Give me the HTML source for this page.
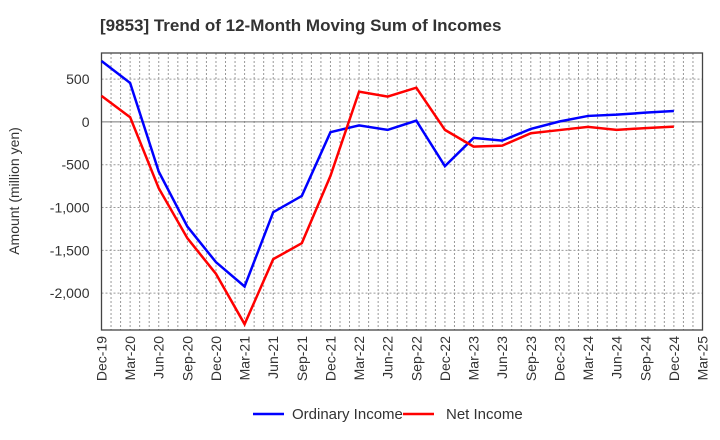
<!DOCTYPE html>
<html><head><meta charset="utf-8"><style>
body{margin:0;background:#fff;}
svg{display:block;font-family:"Liberation Sans",Arial,sans-serif;}
</style></head><body>
<svg id="chart" width="720" height="440" xmlns="http://www.w3.org/2000/svg">
<text x="100" y="31" font-size="17" font-weight="bold" fill="#333">[9853]  Trend of 12-Month Moving Sum of Incomes</text>
<g id="grid"></g><g id="axes"></g><g id="series"></g>
<text transform="translate(19,191) rotate(-90)" text-anchor="middle" font-size="14" fill="#333">Amount (million yen)</text>
<g>
<g><line x1="253" y1="414" x2="284" y2="414" stroke="#0000ff" stroke-width="2.5"/><text x="292" y="419" font-size="15" fill="#333">Ordinary Income</text></g>
<g><line x1="403" y1="414" x2="434" y2="414" stroke="#ff0000" stroke-width="2.5"/><text x="446" y="419" font-size="15" fill="#333">Net Income</text></g>
</g>
</svg>
<script>
const categories=["Dec-19","Mar-20","Jun-20","Sep-20","Dec-20","Mar-21","Jun-21","Sep-21","Dec-21","Mar-22","Jun-22","Sep-22","Dec-22","Mar-23","Jun-23","Sep-23","Dec-23","Mar-24","Jun-24","Sep-24","Dec-24","Mar-25"];
const ordinaryIncome=[712,455,-580,-1222,-1638,-1922,-1054,-864,-120,-40,-93,15,-517,-187,-218,-82,5,70,85,108,128];
const netIncome=[304,55,-774,-1358,-1774,-2362,-1603,-1416,-630,354,296,400,-93,-288,-277,-132,-95,-58,-93,-72,-55];
const yTicks=[500,0,-500,-1000,-1500,-2000];
const yTickLabels=["500","0","-500","-1,000","-1,500","-2,000"];
const yMin=-2430,yMax=805;
const L=101.5,R=702.5,T=53,B=330;
const NS="http://www.w3.org/2000/svg";
const nQ=categories.length-1;
function xS(i){return L+(R-L)*i/nQ;}
function yS(v){return B-(v-yMin)/(yMax-yMin)*(B-T);}
function mk(tag,attrs,parent){const e=document.createElementNS(NS,tag);for(const k in attrs)e.setAttribute(k,attrs[k]);parent.appendChild(e);return e;}
const grid=document.getElementById('grid'),axes=document.getElementById('axes'),ser=document.getElementById('series');
for(let m=1;m<nQ*3;m++){const x=L+(R-L)*m/(nQ*3);
const g=mk('line',{x1:x,x2:x,y1:T,y2:B,stroke:'#999','stroke-width':1,'stroke-dasharray':'2,2'},grid);

}
yTicks.forEach((v,i)=>{const y=yS(v);
const g=mk('line',{x1:L,x2:R,y1:y,y2:y,stroke:v===0?'#777':'#999','stroke-width':1,'stroke-dasharray':v===0?'':'2,2'},grid);


const t=mk('text',{x:L-12,y:y+5,'text-anchor':'end','font-size':14,fill:'#333'},axes);t.textContent=yTickLabels[i];

});
categories.forEach((c,i)=>{const x=xS(i);
const t=mk('text',{transform:`translate(${x+5},336) rotate(-90)`,'text-anchor':'end','font-size':14,fill:'#333'},axes);t.textContent=c;

});
const fr=mk('rect',{x:L,y:T,width:R-L,height:B-T,fill:'none',stroke:'#444','stroke-width':1.3},axes);


function line(data,color,name){const p=mk('polyline',{points:data.map((v,i)=>xS(i)+','+yS(v)).join(' '),fill:'none',stroke:color,'stroke-width':2.5,'stroke-linejoin':'miter'},ser);

}
line(ordinaryIncome,'#0000ff','ordinary-income-line');
line(netIncome,'#ff0000','net-income-line');
</script>
</body></html>
